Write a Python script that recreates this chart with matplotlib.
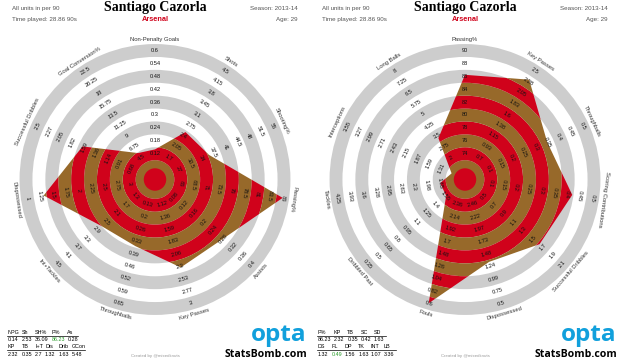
import numpy as np
import matplotlib.pyplot as plt
from matplotlib.patches import Wedge, Circle, Polygon

plt.rcParams['font.family'] = ['Liberation Sans', 'DejaVu Sans']

W, H = 620, 362

player = "Santiago Cazorla"
team = "Arsenal"
season = "Season: 2013-14"
age = "Age: 29"
units = "All units in per 90"
played = "Time played: 28.86 90s"

# left radar: attacking template
left_axes = ["Non-Penalty Goals", "Shots", "Shooting%", "Passing%", "Assists", "Key Passes",
             "Throughballs", "Int+Tackles", "Dispossessed", "Successful Dribbles", "Goal Conversion%"]
left_values = [0.14, 2.53, 36.09, 86.23, 0.28, 2.32, 0.35, 2.7, 1.32, 1.63, 5.48]
left_low = [0, 1, 20, 61, 0, 0.65, 0, 0.5, 3.5, 0.225, 0]       # value at centre
left_high = [0.6, 4.5, 55, 86, 0.4, 3.0, 0.65, 4.5, 1.0, 2.5, 22.5]  # value at outer ring

# right radar: midfield template
right_axes = ["Passing%", "Key Passes", "Throughballs", "Scoring Contributions", "Successful Dribbles",
              "Dispossessed", "Fouls", "Dribbled Past", "Tackles", "Interceptions", "Long Balls"]
right_values = [86.23, 2.32, 0.35, 0.42, 1.63, 1.32, 0.49, 1.56, 1.63, 1.07, 3.36]
right_low = [70, 0.25, 0, 0, 0.1, 2.95, 2.8, 1.85, 1.0, 0.75, 0.5]
right_high = [90, 2.5, 0.5, 0.5, 2.1, 0.5, 0.6, 0.35, 4.25, 3.55, 8]

left_heads = [["NPG", "Sh", "SH%", "P%", "As"], ["KP", "TB", "I+T", "Dis", "Drib", "GCon"]]
left_vals = [["0.14", "2.53", "36.09", "86.23", "0.28"], ["2.32", "0.35", "2.7", "1.32", "1.63", "5.48"]]
left_green = (0, 3)
right_heads = [["P%", "KP", "TB", "SC", "SD"], ["DS", "FL", "DP", "TK", "INT", "LB"]]
right_vals = [["86.23", "2.32", "0.35", "0.42", "1.63"], ["1.32", "0.49", "1.56", "1.63", "1.07", "3.36"]]
right_green = (1, 1)

RED = '#d0021b'
BROWN = '#97692a'
GRAY = '#cdcdcd'
STEP = 12.9
CY = 179.5

fig = plt.figure(figsize=(W / 100, H / 100), dpi=100)


def fmt(v):
    s = f"{v + 1e-9:.2f}".rstrip('0').rstrip('.')
    return s


def rot_for(th):
    r = -th
    r = (r + 180) % 360 - 180
    if r > 90:
        r -= 180
    if r < -100:
        r += 180
    return r


def radar(cx, names, values, low, high):
    half = 150
    ax = fig.add_axes([(cx - half) / W, (H - CY - half) / H, 2 * half / W, 2 * half / H])
    lim = half / STEP
    ax.set_xlim(-lim, lim)
    ax.set_ylim(-lim, lim)
    ax.axis('off')
    n = len(names)
    th = np.arange(n) * 360.0 / n

    for k in range(2, 11, 2):
        ax.add_patch(Wedge((0, 0), k + 0.5, 0, 360, width=1.0, color=GRAY, lw=0))

    ks = []
    for v, lo, hi in zip(values, low, high):
        ks.append(np.clip((v - lo) / (hi - lo) * 10, 0, 10))
    ks = np.array(ks)
    rad = np.deg2rad(th)
    pts = np.column_stack([ks * np.sin(rad), ks * np.cos(rad)])
    poly = Polygon(pts, closed=True, transform=ax.transData)

    for k in range(0, 11):
        inner = max(k - 0.5, 0)
        w = Wedge((0, 0), k + 0.5, 0, 360, width=k + 0.5 - inner,
                  color=RED if k % 2 == 0 else BROWN, lw=0)
        ax.add_patch(w)
        w.set_clip_path(poly)
    ax.add_patch(Circle((0, 0), 0.87, color=RED, lw=0))

    for i in range(n):
        a = np.deg2rad(th[i])
        r = rot_for(th[i])
        for k in range(2, 11):
            v = low[i] + (high[i] - low[i]) * k / 10
            ax.text(k * np.sin(a), k * np.cos(a), fmt(v), fontsize=4.1, rotation=r,
                    rotation_mode='anchor', ha='center', va='center', color='#111111')
        ax.text(10.85 * np.sin(a), 10.85 * np.cos(a), names[i], fontsize=4.2, rotation=r,
                rotation_mode='anchor', ha='center', va='center', color='#333333')


def header(x0):
    fig.text((x0 + 155) / W, 1 - 8 / H, player, fontsize=10, fontweight='bold',
             family='Liberation Serif', ha='center', va='center')
    fig.text((x0 + 155) / W, 1 - 19.5 / H, team, fontsize=5.3, fontweight='bold',
             color=RED, ha='center', va='center')
    fig.text((x0 + 12) / W, 1 - 8.5 / H, units, fontsize=4.5, color='#555555', va='center')
    fig.text((x0 + 12) / W, 1 - 19.5 / H, played, fontsize=4.5, color='#555555', va='center')
    fig.text((x0 + 298) / W, 1 - 8.5 / H, season, fontsize=4.5, color='#555555', va='center', ha='right')
    fig.text((x0 + 298) / W, 1 - 19.5 / H, age, fontsize=4.5, color='#555555', va='center', ha='right')


def table(x0, heads, vals, green, col_x, row_y, line_end):
    for r in range(2):
        for c, (h, v) in enumerate(zip(heads[r], vals[r])):
            x = (x0 + col_x[r][c]) / W
            fig.text(x, 1 - row_y[r][0] / H, h, fontsize=3.9, va='center')
            col = '#2a9d2a' if (r, c) == green else 'black'
            fig.text(x, 1 - row_y[r][1] / H, v, fontsize=3.9, va='center', color=col)
        yl = 1 - (row_y[r][0] + 3.3) / H
        fig.add_artist(plt.Line2D([(x0 + 7) / W, (x0 + line_end[r]) / W], [yl, yl],
                                  color='black', lw=0.5))


def logos(x0):
    fig.text((x0 + 307) / W, 1 - 335 / H, "opta", fontsize=17.5, fontweight='bold',
             family='Open Sans', color='#11a0dc', ha='right', va='center')
    fig.text((x0 + 307) / W, 1 - 354.5 / H, "StatsBomb.com", fontsize=7.6, fontweight='bold',
             family='Open Sans', color='black', ha='right', va='center')
    fig.text((x0 + 155) / W, 1 - 356.5 / H, "Created by @mixedknuts", fontsize=3.2,
             color='#999999', ha='center', va='center')


radar(155, left_axes, left_values, left_low, left_high)
radar(465, right_axes, right_values, right_low, right_high)

header(0)
header(310)

row_y = [(332.5, 339.5), (347, 354.5)]
table(0, left_heads, left_vals, left_green,
      [[7.3, 21.7, 35, 51.7, 67.3], [7.3, 21.7, 35, 45, 59, 71.7]], row_y, [78, 85])
table(310, right_heads, right_vals, right_green,
      [[7.3, 24, 37.3, 50.7, 64], [7.3, 21.7, 35, 48.3, 60.7, 74]], row_y, [76, 86])

logos(0)
logos(310)

fig.savefig('out.png', dpi=100, facecolor='white')
